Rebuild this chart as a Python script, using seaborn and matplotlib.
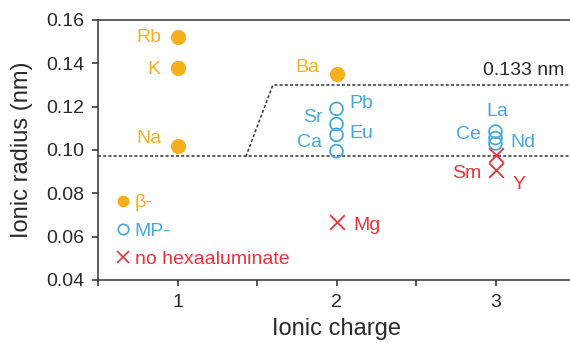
import matplotlib
matplotlib.use("Agg")
import matplotlib.pyplot as plt
import seaborn as sns
import pandas as pd
from matplotlib.lines import Line2D

# ---- data ----
beta_names = ["Rb", "K", "Na", "Ba"]
beta_charge = [1, 1, 1, 2]
beta_radius = [0.152, 0.138, 0.102, 0.135]

mp_names = ["Pb", "Sr", "Eu", "Ca", "La", "Ce", "Nd"]
mp_charge = [2, 2, 2, 2, 3, 3, 3]
mp_radius = [0.119, 0.112, 0.107, 0.0995, 0.1085, 0.1055, 0.1030]

no_names = ["Mg", "Sm", "Y"]
no_charge = [2, 3, 3]
no_radius = [0.0667, 0.0975, 0.0910]

lower_line_x = [0.5, 3.6]
lower_line_y = [0.097, 0.097]
upper_line_x = [1.43, 1.60, 3.6]
upper_line_y = [0.097, 0.130, 0.130]
threshold_label = "0.133 nm"

x_ticks = [0.5, 1, 1.5, 2, 2.5, 3]
x_ticklabels = ["", "1", "", "2", "", "3"]
y_ticks = [0.04, 0.06, 0.08, 0.10, 0.12, 0.14, 0.16]

# label offsets in pixels (dx, dy, ha)
label_offsets = {
    "Rb": (-16, 0, "right"), "K": (-17, -2, "right"), "Na": (-16, 7, "right"),
    "Ba": (-17, 7, "right"), "Pb": (13, 5, "left"), "Sr": (-14, 6, "right"),
    "Eu": (13, 1, "left"), "Ca": (-14, 9, "right"), "La": (2, 20, "center"),
    "Ce": (-15, 4, "right"), "Nd": (15, 1, "left"), "Sm": (-14, -18, "right"),
    "Y": (17, -15, "left"), "Mg": (17, -3, "left"),
}

ORANGE = "#F6B01E"
BLUE = "#45A9DC"
RED = "#EC3338"
DARK = "#2a2a2a"

sns.set_style("ticks")
plt.rcParams["font.family"] = ["Liberation Sans", "DejaVu Sans"]

fig = plt.figure(figsize=(5.70, 3.43), dpi=100)
ax = fig.add_axes([98 / 570, 63 / 343, 477 / 570, 260 / 343])

df_b = pd.DataFrame({"name": beta_names, "charge": beta_charge, "radius": beta_radius})
df_m = pd.DataFrame({"name": mp_names, "charge": mp_charge, "radius": mp_radius})
df_n = pd.DataFrame({"name": no_names, "charge": no_charge, "radius": no_radius})

ax.plot(lower_line_x, lower_line_y, color="#333333", lw=1.1, ls=(0, (2, 1.4)), zorder=1)
ax.plot(upper_line_x, upper_line_y, color="#333333", lw=1.1, ls=(0, (2, 1.4)), zorder=1)

sns.scatterplot(data=df_b, x="charge", y="radius", ax=ax, color=ORANGE,
                s=120, marker="o", edgecolor=ORANGE, linewidth=0, zorder=3, legend=False)
sns.scatterplot(data=df_m, x="charge", y="radius", ax=ax, color=BLUE,
                facecolor="none", edgecolor=BLUE, s=85, marker="o",
                linewidth=1.3, zorder=3, legend=False)
sns.scatterplot(data=df_n, x="charge", y="radius", ax=ax, color=RED,
                s=110, marker="x", linewidth=1.3, zorder=3, legend=False)

for df, col in [(df_b, ORANGE), (df_m, BLUE), (df_n, RED)]:
    for _, r in df.iterrows():
        dx, dy, ha = label_offsets[r["name"]]
        ax.annotate(r["name"], (r["charge"], r["radius"]), xytext=(dx, dy),
                    textcoords="offset pixels", ha=ha, va="center",
                    fontsize=14, color=col)

ax.text(3.435, 0.1365, threshold_label, ha="right", va="center",
        fontsize=14, color=DARK)

ax.set_xlim(0.5, 3.5)
ax.set_ylim(0.04, 0.16)
ax.set_xticks(x_ticks)
ax.set_xticklabels(x_ticklabels)
ax.set_yticks(y_ticks)
ax.set_yticklabels([f"{v:.2f}" for v in y_ticks])
ax.tick_params(axis="both", labelsize=14, colors=DARK, length=4, width=1.1,
               direction="out", pad=6)
ax.set_xlabel("Ionic charge", fontsize=17, color=DARK, labelpad=5)
ax.set_ylabel("Ionic radius (nm)", fontsize=17, color=DARK, labelpad=9)
for sp in ax.spines.values():
    sp.set_color("#333333")
    sp.set_linewidth(1.1)

handles = [
    Line2D([], [], marker="o", ls="", color=ORANGE, markersize=8.5, markeredgewidth=0),
    Line2D([], [], marker="o", ls="", markerfacecolor="none", markeredgecolor=BLUE,
           markersize=7.5, markeredgewidth=1.2),
    Line2D([], [], marker="x", ls="", color=RED, markersize=8.5, markeredgewidth=1.2),
]
leg = ax.legend(handles, ["β-", "MP-", "no hexaaluminate"], loc="lower left",
                bbox_to_anchor=(0.038, 0.046), frameon=False, fontsize=14,
                handlelength=0.7, handletextpad=0.25, labelspacing=0.55,
                borderpad=0, borderaxespad=0)
for t, c in zip(leg.get_texts(), [ORANGE, BLUE, RED]):
    t.set_color(c)

fig.savefig("out.png", dpi=100)
